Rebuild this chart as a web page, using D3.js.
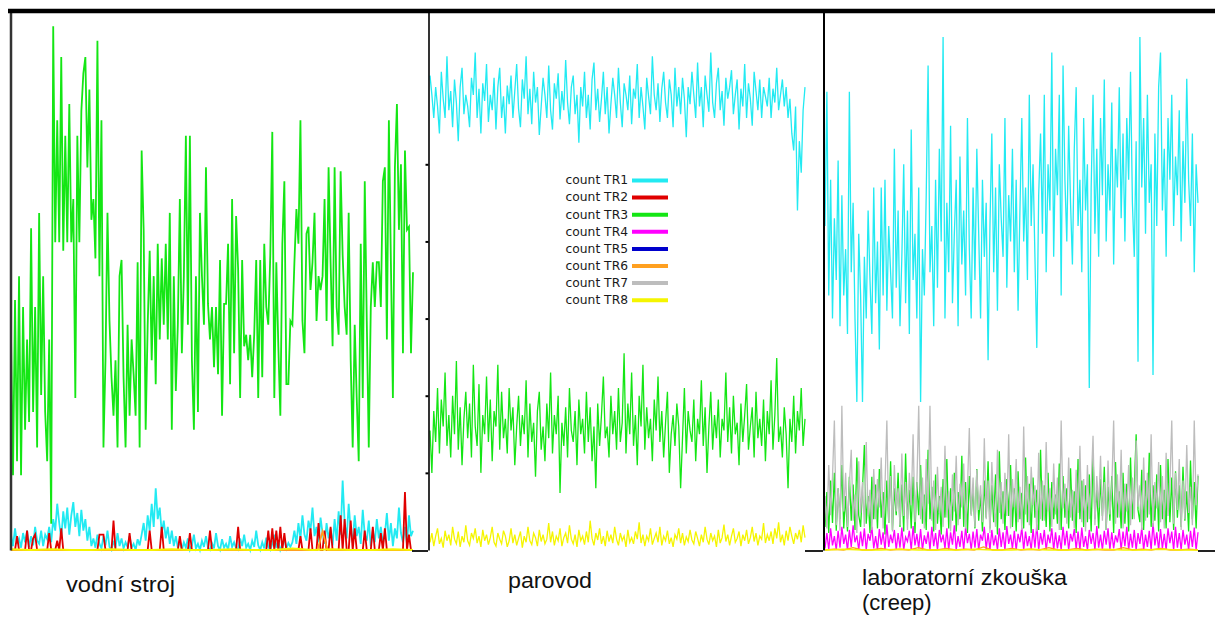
<!DOCTYPE html>
<html>
<head>
<meta charset="utf-8">
<script src="https://cdn.jsdelivr.net/npm/d3@7"></script>
<style>
body { margin: 0; background: #fff; }
</style>
</head>
<body>
<div id="chart"></div>
<script>
var width = 1215;
var height = 619;
var topY = 10;
var bottomY = 550;

var legend_labels = ['count TR1','count TR2','count TR3','count TR4','count TR5','count TR6','count TR7','count TR8'];
var legend_colors = ['#22eaf2','#e00000','#14e614','#ff00ff','#0000cc','#ffa020','#bdbdbd','#f5f500'];
var tick_values = [100, 200, 300, 400, 500];

// vodni stroj
var vodni_tr1 = [20,5,28,8,15,3,22,10,25,4,18,6,30,12,8,25,5,20,14,30,
  10,40,25,60,35,15,50,28,55,20,45,62,30,48,18,52,25,40,12,30,
  5,15,3,20,8,2,18,6,25,4,0,12,3,22,5,15,2,10,4,18,3,8,0,14,6,
  20,35,12,45,25,60,30,80,40,55,22,38,15,30,8,25,5,18,3,12,
  0,10,3,15,0,6,20,2,8,0,12,4,18,3,0,9,2,22,5,0,14,3,8,0,18,4,10,2,0,15,5,20,3,8,0,12,4,25,6,0,10,2,16,4,0,8,20,3,12,0,6,15,2,9,4,
  10,25,8,35,15,45,20,12,38,25,55,18,30,10,42,22,8,35,15,28,6,40,12,50,20,90,35,15,60,25,10,45,18,30,8,52,20,12,38,5,25,10,40,15,30,8,20,48,12,35,5,28,15,55,22,10,30,8,45,18,25];
var vodni_tr2 = [0,0,0,18,0,0,0,0,25,0,0,15,20,0,0,0,0,0,0,22,
  0,0,0,12,0,28,0,0,0,0,0,0,0,0,0,0,0,0,0,0,
  0,0,0,0,20,20,20,0,0,0,0,38,0,0,0,0,0,0,0,22,0,0,0,0,0,
  0,0,0,0,25,0,0,0,0,0,30,0,0,0,0,0,0,0,0,18,
  0,0,0,0,22,0,0,0,0,0,0,0,0,0,25,0,0,0,0,0,0,0,0,0,0,0,0,0,30,0,0,0,0,0,0,0,0,0,0,0,0,0,0,25,0,28,0,25,0,30,0,22,0,0,0,
  0,0,0,0,18,0,0,0,0,28,0,0,0,35,0,0,25,0,0,30,0,0,0,0,45,0,40,0,0,38,0,28,0,0,0,0,25,0,0,0,30,0,0,0,22,0,28,0,0,0,0,0,0,0,0,0,75,0,20,0,0];
var vodni_tr3 = [279,97,324,115,355,97,315,156,273,166,417,179,315,133,437,201,355,179,115,273,
  34,679,399,557,399,639,388,537,399,578,399,455,197,537,399,569,618,639,496,597,
  428,455,378,660,355,557,133,246,437,297,224,174,246,133,355,376,224,133,292,174,
  273,228,174,373,133,518,415,156,292,388,246,355,215,397,273,378,292,397,273,437,
  156,355,206,292,455,255,355,537,292,537,246,156,355,179,437,355,292,496,319,273,
  315,237,315,
  228,376,174,319,319,397,215,455,255,433,364,197,376,264,279,246,279,224,279,376,
  197,376,224,397,315,292,382,542,197,373,264,174,397,478,215,215,297,292,373,442,
  397,557,297,255,410,419,337,373,437,297,355,337,355,455,297,496,373,264,496,315,
  279,491,382,315,279,437,246,133,292,197,115,397,197,478,297,133,315,373,315,373,
  373,315,478,496,273,557,373,197,496,578,415,500,255,518,415,419,255,360];
var vodni_tr6 = [0,0,0,0,0,0,0,0,0,0,0,0,0,0,0,0,0,0,0,0,0,0,0,0,0,0,0,0,0,0,0,0,0,0,0,0,0,0,0,0,
  0,0,0,0,0,0,0,0,0,0,0,0,0,0,0,0,0,0,0,0,0,0,24,0,0,0,0,0,0,0,0,0,0,0,0,0,0,0,0,0,0];
var vodni_tr8 = [1,0,1,0,0,1,0,0,1,0,0,1,0,0,2,0,1,0,0,1,0];

// parovod
var parovod_tr1 = [615,590,560,600,575,540,620,585,560,640,570,595,548,610,580,530,600,625,565,590,
  575,548,612,590,645,560,598,540,605,582,630,555,590,570,612,545,600,625,560,588,
  540,602,578,615,560,595,630,572,548,610,585,640,565,598,552,620,580,600,538,575,
  612,590,560,628,570,545,605,585,618,558,595,570,635,580,552,600,615,565,590,528,
  600,575,620,560,590,545,610,632,570,598,555,585,620,565,600,540,578,612,590,560,
  625,580,548,605,590,570,615,552,598,585,630,560,600,575,545,612,588,565,640,590,
  570,605,555,598,620,580,560,610,590,548,625,575,600,565,612,585,535,600,578,620,
  590,560,632,575,600,548,615,590,568,645,580,560,605,625,570,595,550,612,585,600,
  622,565,590,610,545,598,575,630,560,605,585,550,620,595,570,610,560,600,588,575,
  612,560,598,580,625,570,590,610,575,600,560,585,540,518,575,440,530,489,570,600];
var parovod_tr3 = [155,100,180,140,210,125,195,160,230,135,175,120,200,150,245,130,185,110,170,205,
  145,190,120,240,160,135,215,100,175,150,225,140,195,115,180,160,240,130,205,145,
  170,125,210,155,185,110,160,200,135,175,150,220,120,190,140,165,95,180,205,130,
  160,115,190,145,230,125,175,150,200,74,165,135,185,120,210,155,140,180,110,195,
  150,170,125,205,140,185,115,160,80,190,135,175,225,145,160,120,200,150,180,130,
  210,140,165,255,125,190,150,230,135,175,110,200,160,240,130,185,145,170,115,195,
  155,225,140,180,120,165,205,100,150,175,135,190,160,80,145,210,125,180,155,140,
  195,115,170,150,220,135,185,100,160,205,130,175,145,195,120,170,155,230,140,185,
  125,200,150,165,110,190,140,175,215,130,160,185,120,205,145,170,135,195,115,180,
  150,220,130,175,249,140,160,120,185,150,80,170,140,200,125,180,155,210,135,170];
var parovod_tr8 = [10,22,5,18,28,8,15,3,25,12,20,6,30,14,8,24,4,18,10,32,
  12,6,22,15,28,9,18,4,26,12,20,7,16,30,10,5,22,14,8,25,
  18,4,12,28,9,20,6,15,24,3,18,10,30,12,7,22,16,5,26,11,
  20,8,14,35,10,24,6,18,12,28,5,16,22,9,32,14,8,20,4,26,
  12,18,7,24,10,38,15,6,22,13,28,8,18,5,25,11,20,9,30,14,
  6,22,12,18,4,26,10,16,8,24,14,36,9,20,5,18,12,28,7,15,
  22,10,30,6,18,12,25,8,16,4,20,14,28,9,22,6,17,11,26,13,
  8,24,15,5,20,10,30,14,7,22,12,18,4,26,9,16,33,11,20,6,
  18,28,10,15,24,5,20,12,26,8,16,30,11,22,6,18,14,35,9,20,
  12,24,8,28,15,36,10,20,6,25,12,30,18,8,22,14,26,10,32,16];

// laboratorni zkouska (creep)
var creep_tr1 = [420,594,330,480,300,430,350,505,290,460,330,390,280,594,360,450,300,192,410,330,
  192,380,300,440,350,280,470,320,400,260,470,330,480,310,420,360,300,520,340,440,
  290,380,500,320,440,280,545,350,410,300,470,192,390,330,460,628,360,420,290,480,
  340,520,400,665,300,450,360,550,320,410,480,290,510,370,440,330,560,390,300,470,
  350,520,410,300,480,380,450,246,420,540,360,470,310,500,430,380,560,340,460,400,
  520,360,480,310,440,560,400,470,350,590,420,500,380,262,460,540,410,590,360,500,
  440,645,380,520,460,590,330,628,480,400,550,450,370,520,600,420,480,360,560,440,
  500,210,470,590,410,520,380,560,460,610,400,500,440,580,370,520,470,600,430,540,
  400,560,480,620,450,380,530,244,665,470,560,410,590,450,500,227,540,420,600,645,
  440,520,380,560,480,590,420,510,460,570,400,530,450,611,480,420,540,360,500,450];
var creep_tr3 = [30,75,22,90,35,100,25,80,40,110,28,70,24,95,38,85,26,120,45,30,
  80,136,34,70,22,95,40,85,28,105,42,75,20,90,35,115,26,80,45,100,
  30,85,24,125,40,78,28,95,22,88,45,110,34,72,26,130,40,82,24,98,
  34,70,20,92,42,118,28,80,38,100,24,75,40,122,30,88,22,96,46,78,
  28,105,38,72,24,90,42,115,28,84,36,98,20,128,40,76,26,92,44,110,
  30,80,24,102,40,74,28,120,36,86,22,94,42,78,26,130,38,84,30,100,
  24,88,40,72,34,112,26,96,42,80,28,106,38,76,22,118,40,90,30,84,
  36,98,24,124,40,78,28,92,44,108,26,82,38,96,22,114,42,76,28,100,
  34,86,24,120,40,80,150,52,36,104,26,90,42,126,30,84,38,98,24,110,
  40,78,28,118,36,94,26,102,42,84,30,108,38,76,24,116,40,88,28,96];
var creep_tr4 = [2,22,0,28,6,18,0,25,3,30,8,20,0,26,4,32,10,19,0,24,
  5,28,0,21,12,30,2,18,0,27,7,23,0,33,4,20,9,26,0,22,
  3,29,0,17,11,25,0,31,6,21,2,27,0,19,8,24,0,30,5,22,
  0,26,10,20,2,28,0,23,7,32,0,18,4,25,0,29,9,21,0,24,
  3,27,0,20,12,30,1,22,0,26,6,19,0,28,4,23,0,31,8,20,
  2,25,0,21,10,29,0,24,5,18,0,27,3,33,0,22,7,26,0,20,
  9,28,0,23,2,19,0,30,6,25,0,21,11,27,1,24,0,29,4,18,
  0,26,8,22,0,31,3,20,0,25,7,28,0,23,2,19,10,27,0,24,
  5,30,0,21,3,26,0,22,8,29,0,20,4,25,0,35,6,23,0,27,
  2,21,0,28,9,24,0,30,3,22,0,26,7,20,0,25,4,29,0,23];
var creep_tr6 = [0,1,0,3,0,0,2,0,1,0,3,0,0,2,0,1,0,4,0,0,2,0,1,0,3,0,0,2,0,1,0,0,3,0,1,0,2,0,0,1,0];
var creep_tr7 = [70,28,110,45,95,168,32,80,25,187,50,100,30,85,130,38,72,22,115,48,
  88,30,140,45,78,26,105,40,92,55,120,28,83,168,35,96,24,110,50,80,
  32,125,44,88,26,100,58,150,36,84,187,40,94,28,118,60,187,38,90,26,
  108,48,82,30,135,42,76,24,98,50,122,32,86,55,112,28,80,158,44,94,
  30,104,52,84,36,145,40,90,22,114,60,30,130,48,88,34,100,44,150,28,
  92,55,118,36,82,26,160,46,96,32,108,58,84,24,126,40,90,38,140,50,
  80,30,112,46,94,26,168,54,86,34,120,42,78,28,104,48,135,36,92,24,
  110,40,84,148,32,96,55,122,38,88,26,116,46,80,168,34,98,42,130,28,
  86,50,110,32,94,40,142,56,84,26,120,38,100,46,150,30,88,54,114,36,
  96,28,126,44,84,168,34,100,52,118,26,90,40,136,48,82,32,168,58,98];
var creep_tr8 = [0,1,0,0,1,0,0,0,1,0,0,1,0,0,0,1,0,0,1,0,0];

var panels = [
    {title: [['vodní stroj', 109]], tx: 66, ty: 592, x0: 11, x1: 413, sw: 1.8,
     series: [[0, vodni_tr1], [1, vodni_tr2], [2, vodni_tr3], [5, vodni_tr6], [7, vodni_tr8]]},
    {title: [['parovod', 84]], tx: 508, ty: 588, x0: 430, x1: 805, sw: 1.3,
     series: [[0, parovod_tr1], [2, parovod_tr3], [7, parovod_tr8]]},
    {title: [['laboratorní zkouška', 205], ['(creep)', null]], tx: 862, ty: 585, x0: 825, x1: 1198, sw: 1.3,
     series: [[0, creep_tr1], [2, creep_tr3], [3, creep_tr4], [5, creep_tr6], [6, creep_tr7], [7, creep_tr8]]}
];

var svg = d3.select("#chart")
    .append("svg")
        .attr("width", width)
        .attr("height", height);

var y = d3.scaleLinear()
    .domain([0, 700])
    .range([bottomY, topY]);

// series
panels.forEach(function(p) {
    p.series.forEach(function(s) {
        var data = s[1];
        var x = d3.scaleLinear()
            .domain([0, data.length - 1])
            .range([p.x0, p.x1]);
        var line = d3.line()
            .x(function(d, i) { return x(i); })
            .y(function(d) { return y(d); });
        svg.append("path")
            .datum(data)
            .attr("d", line)
            .style("fill", "none")
            .style("stroke", legend_colors[s[0]])
            .style("stroke-width", p.sw);
    });
});

// frames
function frame(xpos, ticks, sw, col) {
    var ax = svg.append("g")
        .attr("transform", "translate(" + xpos + ",0)")
        .call(d3.axisLeft(y).tickValues(ticks).tickSize(3).tickSizeOuter(0).tickFormat(""));
    ax.select(".domain").style("stroke", col).style("stroke-width", sw);
    ax.selectAll(".tick line").style("stroke", "#000").style("stroke-width", 2);
}
frame(10.5, [], 2.5, "#333");
frame(428.5, tick_values, 1.6, "#000");
frame(823.5, [], 2, "#000");

svg.append("line")
    .attr("x1", 8).attr("x2", width)
    .attr("y1", 11).attr("y2", 11)
    .style("stroke", "#000")
    .style("stroke-width", 4.5);

[[412, 428], [805, 823], [1198, 1215]].forEach(function(seg) {
    svg.append("line")
        .attr("x1", seg[0]).attr("x2", seg[1])
        .attr("y1", bottomY + 1).attr("y2", bottomY + 1)
        .style("stroke", "#222")
        .style("stroke-width", 2);
});

// legend
var legend = svg.append("g");
legend_labels.forEach(function(lab, i) {
    var ly = 180 + i * 17.1;
    legend.append("text")
        .attr("x", 628)
        .attr("y", ly)
        .attr("dy", "0.35em")
        .attr("text-anchor", "end")
        .style("font-family", "'DejaVu Sans', Verdana, sans-serif")
        .style("font-size", "12.3px")
        .style("fill", "#1a1a1a")
        .text(lab);
    legend.append("line")
        .attr("x1", 632).attr("x2", 668)
        .attr("y1", ly + 0.5).attr("y2", ly + 0.5)
        .style("stroke", legend_colors[i])
        .style("stroke-width", 4);
});

// panel titles
panels.forEach(function(p) {
    p.title.forEach(function(t, j) {
        var txt = svg.append("text")
            .attr("x", p.tx)
            .attr("y", p.ty + j * 25)
            .style("font-family", "'Liberation Sans', Arial, sans-serif")
            .style("font-size", "22px")
            .style("fill", "#111")
            .text(t[0]);
        if (t[1]) {
            txt.attr("textLength", t[1]).attr("lengthAdjust", "spacingAndGlyphs");
        }
    });
});
</script>
</body>
</html>
